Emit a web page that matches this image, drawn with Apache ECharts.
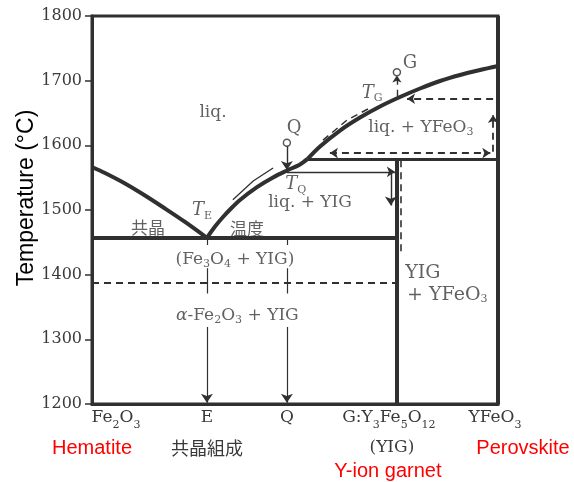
<!DOCTYPE html>
<html><head><meta charset="utf-8">
<script src="https://cdn.jsdelivr.net/npm/echarts@6.0.0/dist/echarts.min.js"></script>
<style>html,body{margin:0;padding:0;background:#fff}#c{width:574px;height:482px}</style>
</head><body><div id="c"></div>
<script>
// ---------- data (composition axis: 0 = Fe2O3 ... 100 = YFeO3, temperature in °C) ----------
const compTicks = [0, 28.3, 48.0, 75.1, 100];           // Fe2O3, E, Q, G (YIG), YFeO3
const compNames = ['Fe2O3', 'E', 'Q', 'G:Y3Fe5O12', 'YFeO3'];
const yTicks = [1200, 1300, 1400, 1500, 1600, 1700, 1800];

const X_E = 28.3, X_Q = 48.0, X_P = 53.1, X_G = 75.1, X_END = 100;
const T_EUT = 1457, T_PER = 1579, T_Q = 1559, T_G = 1675, T_TR = 1388, T_MIN = 1200, T_MAX = 1800;

const liquidusFe2O3 = [[0,1566.5],[3.2,1557.2],[8.13,1541.0],[13.05,1522.4],[17.98,1502.3],[22.91,1481.5],[28.3,1457]];
const liquidusYIG   = [[28.3,1457],[30.3,1474.5],[32.27,1489.2],[34.24,1502.3],[36.45,1515.5],[40.64,1535.3],[44.58,1550.3],[48.03,1561.1],[51.23,1570.4],[53.1,1579]];
const liquidusYFeO3 = [[53.1,1579],[56.16,1598.2],[61.08,1622.9],[66.01,1643.0],[70.94,1660.1],[75.86,1674.7],[80.79,1687.9],[85.71,1699.5],[90.64,1708.8],[95.57,1716.5],[100,1722.7]];

// cooling-path guides
const pathAlongYIG   = [[44.6,1565],[39.7,1545],[34.7,1516]];
const pathAlongYFeO3 = [[56.9,1608],[62.8,1639],[68.5,1658]];

// point markers Q and G
const markerPts = [[X_Q,1604],[X_G,1713]];

// region / point labels
const regionText = ['liq.', 'liq. + YIG', 'liq. + YFeO{s|3}', '(Fe{s|3}O{s|4} + YIG)', '{i|α}-Fe{s|2}O{s|3} + YIG', 'YIG', '+ YFeO{s|3}'];
const regionX    = [29.8, 53.7, 81.0, 35.2, 35.8, 81.5, 87.5];
const regionT    = [1650, 1512, 1627, 1424, 1336, 1403, 1369];
const pointText  = ['Q', 'G', '{it|T}{ts|G}', '{it|T}{ts|Q}', '{it|T}{ts|E}'];
const pointX     = [49.8, 78.3, 69.0, 50.2, 27.1];
const pointT     = [1627, 1727, 1681, 1539, 1499];
const cjkText    = ['共晶', '温度'];
const cjkX       = [13.8, 38.2];
const cjkT       = [1473, 1472];

// ---------- styles ----------
const SERIF = 'DejaVu Serif', CJK = 'Noto Sans CJK JP', SANS = 'Liberation Sans';
const INK = '#303030', TXT = '#3a3a3a', RED = '#ff0000';

const inRich = {
  s:  {fontFamily: SERIF, fontSize: 11, color: TXT, verticalAlign: 'bottom', lineHeight: 11},
  i:  {fontFamily: SERIF, fontSize: 17, color: TXT, fontStyle: 'italic'},
  it: {fontFamily: SERIF, fontSize: 18, color: TXT, fontStyle: 'italic', lineHeight: 22},
  ts: {fontFamily: SERIF, fontSize: 11, color: TXT, verticalAlign: 'bottom', lineHeight: 12}
};

const xRich = {
  f:   {fontFamily: SERIF, fontSize: 17, color: TXT, lineHeight: 26},
  fp:  {fontFamily: SERIF, fontSize: 17, color: TXT, lineHeight: 26, padding: [0,0,0,48]},
  fs:  {fontFamily: SERIF, fontSize: 11, color: TXT, lineHeight: 17, verticalAlign: 'bottom'},
  fsR: {fontFamily: SERIF, fontSize: 11, color: TXT, lineHeight: 17, verticalAlign: 'bottom', padding: [0,16,0,0]},
  fsY: {fontFamily: SERIF, fontSize: 11, color: TXT, lineHeight: 17, verticalAlign: 'bottom', padding: [0,6,0,0]},
  c:   {fontFamily: CJK, fontSize: 18, color: TXT, lineHeight: 34},
  f2:  {fontFamily: SERIF, fontSize: 17, color: TXT, lineHeight: 34, padding: [0,10,0,0]},
  r:   {fontFamily: SANS, fontSize: 20, color: RED, lineHeight: 34},
  rP:  {fontFamily: SANS, fontSize: 20, color: RED, lineHeight: 34, padding: [0,0,0,50]},
  r3:  {fontFamily: SANS, fontSize: 20, color: RED, lineHeight: 12, padding: [0,18,0,0]}
};
const xLabelRich = [
  '{fp|Fe}{fs|2}{f|O}{fs|3}\n{r|Hematite}',
  '{f|E}\n{c|共晶組成}',
  '{f|Q}',
  '{f|G:Y}{fs|3}{f|Fe}{fs|5}{f|O}{fsR|12}\n{f2|(YIG)}\n{r3|Y-ion garnet}',
  '{f|YFeO}{fsY|3}\n{rP|Perovskite}'
];
function labelFor(v) {
  let k = 0, best = 1e9;
  compTicks.forEach((c, i) => { if (Math.abs(c - v) < best) { best = Math.abs(c - v); k = i; } });
  return xLabelRich[k];
}

function seg(coords, o) {
  o = o || {};
  return {
    type: 'lines', coordinateSystem: 'cartesian2d', polyline: coords.length > 2,
    silent: true, z: o.z || 3,
    symbol: o.symbol || ['none', 'none'], symbolSize: o.size || 8,
    lineStyle: {color: INK, width: o.width || 1.3, type: o.dash ? [7, 5] : 'solid', opacity: 1, curveness: 0},
    data: [{coords: coords}]
  };
}
function curve(pts, w) {
  return {type: 'line', data: pts, showSymbol: false, smooth: 0.3, silent: true, z: 4,
          lineStyle: {color: INK, width: w}, clip: false};
}
const ARROW_END = ['none', 'arrow'];

const series = [
  curve(liquidusFe2O3, 4),
  curve(liquidusYIG, 4),
  curve(liquidusYFeO3, 4),
  seg([[0, T_EUT], [X_G, T_EUT]], {width: 4}),
  seg([[X_P, T_PER], [X_END, T_PER]], {width: 3}),
  seg([[X_G, T_MIN], [X_G, T_PER]], {width: 4}),
  seg([[X_END, T_MIN], [X_END, T_MAX]], {width: 4}),
  seg([[0, T_TR], [X_G, T_TR]], {width: 1.8, dash: true}),
  // crosses / ticks at E and Q
  seg([[X_E, 1410], [X_E, 1371]], {width: 1.2}),
  seg([[X_Q, 1410], [X_Q, 1371]], {width: 1.2}),
  seg([[X_E, T_EUT], [X_E, 1446]], {width: 1.2}),
  seg([[X_Q, T_EUT], [X_Q, 1446]], {width: 1.2}),
  // downward arrows to E and Q on composition axis
  seg([[X_E, 1319], [X_E, T_MIN + 2]], {width: 1.2, symbol: ARROW_END, size: 9}),
  seg([[X_Q, 1319], [X_Q, T_MIN + 2]], {width: 1.2, symbol: ARROW_END, size: 9}),
  // Q start point drop
  seg([[X_Q, 1600], [X_Q, 1562]], {width: 1.4, symbol: ARROW_END, size: 9}),
  // G rise
  seg([[X_G, T_G], [X_G, 1708]], {width: 1.4, dash: true, symbol: ARROW_END, size: 7}),
  // from TQ horizontally to YIG
  seg([[X_Q, T_Q], [X_G - 0.5, T_Q]], {width: 1.3, symbol: ARROW_END, size: 8}),
  // vertical down along YIG
  seg([[73.6, T_Q], [73.6, 1507]], {width: 1.4, symbol: ARROW_END, size: 9}),
  // dashed beside YIG line
  seg([[76.1, 1577], [76.1, 1430]], {width: 1.6, dash: true}),
  // paths along liquidus
  seg(pathAlongYIG, {width: 1.3, symbol: ARROW_END, size: 8}),
  seg(pathAlongYFeO3, {width: 1.5, dash: true, symbol: ARROW_END, size: 8}),
  // liq.+YFeO3 region paths
  seg([[98.8, 1672], [77.6, 1672]], {width: 1.8, dash: true, symbol: ARROW_END, size: 8}),
  seg([[98.8, 1590], [98.8, 1647]], {width: 1.8, dash: true, symbol: ARROW_END, size: 8}),
  seg([[58.6, 1588], [98.1, 1588]], {width: 1.8, dash: true, symbol: ['arrow', 'arrow'], size: 8}),
  // markers
  {type: 'scatter', data: markerPts, symbolSize: 7, silent: true, z: 6,
   itemStyle: {color: '#fff', borderColor: INK, borderWidth: 1.5}},
  // labels
  {type: 'scatter', symbolSize: 0, silent: true, z: 7,
   data: regionText.map((t, i) => ({value: [regionX[i], regionT[i]],
     label: {formatter: t, fontSize: i >= 5 ? 19 : 17}})),
   label: {show: true, position: 'inside', fontFamily: SERIF, fontSize: 17, color: TXT, lineHeight: 20, rich: inRich}},
  {type: 'scatter', symbolSize: 0, silent: true, z: 7,
   data: pointText.map((t, i) => ({value: [pointX[i], pointT[i]]})),
   label: {show: true, position: 'inside', fontFamily: SERIF, fontSize: 18, color: TXT, lineHeight: 22, rich: inRich,
           formatter: p => pointText[p.dataIndex]}},
  {type: 'scatter', symbolSize: 0, silent: true, z: 7,
   data: cjkText.map((t, i) => ({value: [cjkX[i], cjkT[i]]})),
   label: {show: true, position: 'inside', fontFamily: CJK, fontSize: 17, color: TXT,
           formatter: p => cjkText[p.dataIndex]}}
];

const mainTicks = compTicks.filter(v => v !== X_G);

const chart = echarts.init(document.getElementById('c'));
chart.setOption({
  animation: false,
  backgroundColor: '#fff',
  grid: {left: 92, right: 76, top: 16, bottom: 78, show: true, borderColor: INK, borderWidth: 3, outerBoundsMode: 'none'},
  xAxis: [{
    type: 'value', min: 0, max: 100, position: 'bottom',
    splitLine: {show: false},
    axisLine: {show: true, lineStyle: {color: INK, width: 3}},
    axisTick: {show: false},
    axisLabel: {customValues: mainTicks, margin: 1, rich: xRich, showMaxLabel: true, showMinLabel: true,
                hideOverlap: false, formatter: labelFor}
  }, {
    type: 'value', min: 0, max: 100, position: 'bottom', offset: 0,
    splitLine: {show: false},
    axisLine: {show: false},
    axisTick: {show: false},
    axisLabel: {customValues: [X_G], margin: 1, rich: xRich, showMaxLabel: true, showMinLabel: true,
                hideOverlap: false, formatter: labelFor}
  }],
  yAxis: {
    type: 'value', min: yTicks[0], max: yTicks[yTicks.length - 1], interval: 100,
    splitLine: {show: false},
    axisLine: {show: true, lineStyle: {color: INK, width: 3}},
    axisTick: {show: true, length: 7, lineStyle: {color: INK, width: 1.5}},
    axisLabel: {fontFamily: SERIF, fontSize: 16, color: TXT, margin: 10, formatter: v => String(v)}
  },
  graphic: [{
    type: 'text', x: 27, y: 198, rotation: Math.PI / 2, silent: true,
    style: {text: 'Temperature (°C)', fontFamily: SANS, fontSize: 23, fill: '#000', align: 'center', verticalAlign: 'middle'}
  }],
  series: series
});
</script>
</body></html>
